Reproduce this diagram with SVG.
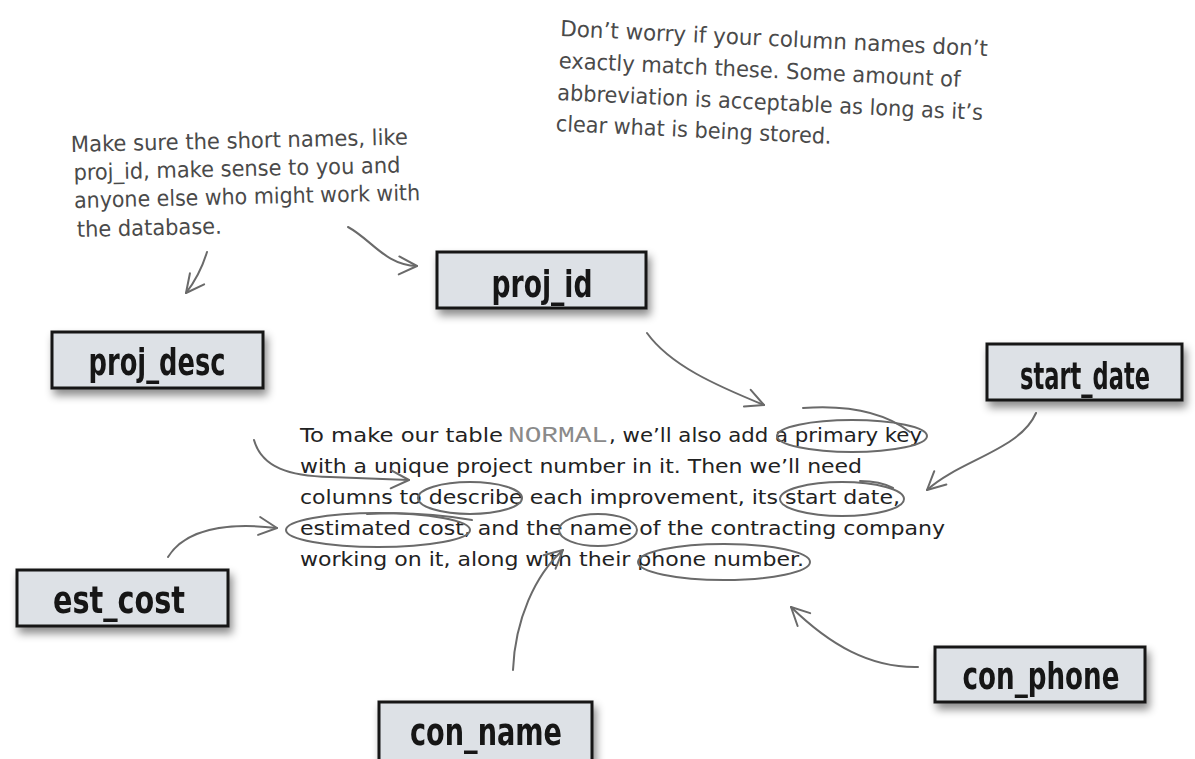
<svg xmlns="http://www.w3.org/2000/svg" width="1195" height="759" viewBox="0 0 1195 759">
<style>
.box{fill:#dde1e6;stroke:#141414;stroke-width:3}
.lbl{font-family:"Liberation Sans Narrow","DejaVu Sans Condensed",sans-serif;font-weight:bold;font-size:38px;fill:#141414;text-anchor:middle}
.note{font-family:"Liberation Sans Narrow","DejaVu Sans Condensed",sans-serif;font-size:22px;fill:#4a4a4a}
.body{font-family:"DejaVu Sans","Liberation Sans",sans-serif;font-size:20px;fill:#222}
.mono{font-family:"Liberation Mono",monospace;font-size:22px;fill:#8a8a8a}
.pen{fill:none;stroke:#6a6a6a;stroke-width:2;stroke-linecap:round;stroke-linejoin:round}
.arr{marker-end:url(#head)}
</style>
<defs>
<filter id="sh" x="-10%" y="-20%" width="125%" height="160%">
<feDropShadow dx="3" dy="6" stdDeviation="4" flood-color="#000" flood-opacity="0.45"/>
</filter>
<marker id="head" viewBox="0 0 22 22" refX="20" refY="11" markerWidth="22" markerHeight="22" markerUnits="userSpaceOnUse" orient="auto">
<path d="M2 2 L20 11 L2 20" fill="none" stroke="#6a6a6a" stroke-width="2" stroke-linecap="round" stroke-linejoin="round"/>
</marker>
</defs>
<rect width="1195" height="759" fill="#fff"/>

<g id="note-left" transform="rotate(-1.3 71 152)">
<text class="note" x="71" y="152" textLength="337" lengthAdjust="spacingAndGlyphs">Make sure the short names, like</text>
<text class="note" x="73" y="180" textLength="327" lengthAdjust="spacingAndGlyphs">proj_id, make sense to you and</text>
<text class="note" x="73" y="208" textLength="346" lengthAdjust="spacingAndGlyphs">anyone else who might work with</text>
<text class="note" x="75" y="237" textLength="145" lengthAdjust="spacingAndGlyphs">the database.</text>
</g>

<g id="note-right" transform="rotate(2.7 560 36)">
<text class="note" x="560" y="36" textLength="428" lengthAdjust="spacingAndGlyphs">Don’t worry if your column names don’t</text>
<text class="note" x="560" y="68" textLength="402" lengthAdjust="spacingAndGlyphs">exactly match these. Some amount of</text>
<text class="note" x="560" y="100" textLength="426" lengthAdjust="spacingAndGlyphs">abbreviation is acceptable as long as it’s</text>
<text class="note" x="560" y="131" textLength="276" lengthAdjust="spacingAndGlyphs">clear what is being stored.</text>
</g>

<g id="paragraph">
<text class="body" x="300" y="442" textLength="203" lengthAdjust="spacingAndGlyphs">To make our table</text>
<text class="mono" x="508" y="442" textLength="100" lengthAdjust="spacingAndGlyphs">NORMAL</text>
<text class="body" x="609" y="442" textLength="313" lengthAdjust="spacingAndGlyphs">, we’ll also add a primary key</text>
<text class="body" x="300" y="473" textLength="562" lengthAdjust="spacingAndGlyphs">with a unique project number in it. Then we’ll need</text>
<text class="body" x="300" y="504" textLength="600" lengthAdjust="spacingAndGlyphs">columns to describe each improvement, its start date,</text>
<text class="body" x="300" y="535" textLength="645" lengthAdjust="spacingAndGlyphs">estimated cost, and the name of the contracting company</text>
<text class="body" x="300" y="566" textLength="504" lengthAdjust="spacingAndGlyphs">working on it, along with their phone number.</text>
</g>

<g id="circles">
<ellipse class="pen" cx="852" cy="436" rx="75" ry="16"/>
<path class="pen" d="M803 408 Q872 403 910 432"/>
<ellipse class="pen" cx="470" cy="498" rx="52" ry="16"/>
<ellipse class="pen" cx="842" cy="499" rx="62" ry="17"/>
<path class="pen" d="M860 481 Q880 481 893 488"/>
<ellipse class="pen" cx="378" cy="530" rx="92" ry="17"/>
<path class="pen" d="M367 514 Q420 511 472 520"/>
<ellipse class="pen" cx="598" cy="530" rx="39" ry="16"/>
<ellipse class="pen" cx="724" cy="562" rx="86" ry="18"/>
</g>

<g id="connectors">
<path class="pen arr" d="M207 252 Q200 275 186 293"/>
<path class="pen arr" d="M348 227 C372 240 385 265 417 266"/>
<path class="pen arr" d="M647 333 C670 365 715 385 764 405"/>
<path class="pen arr" d="M1036 413 C1020 450 960 460 927 490"/>
<path class="pen arr" d="M254 440 C262 468 290 476 330 477 L409 480"/>
<path class="pen arr" d="M168 557 C185 530 225 522 277 528"/>
<path class="pen arr" d="M513 670 C515 620 535 575 563 550"/>
<path class="pen arr" d="M918 667 C870 668 830 645 791 607"/>
</g>

<g id="proj_id" filter="url(#sh)">
<rect class="box" x="437" y="252" width="209" height="56"/>
<text class="lbl" x="542" y="297" textLength="101" lengthAdjust="spacingAndGlyphs">proj_id</text>
</g>
<g id="proj_desc" filter="url(#sh)">
<rect class="box" x="52" y="332" width="211" height="56"/>
<text class="lbl" x="157" y="375" textLength="137" lengthAdjust="spacingAndGlyphs">proj_desc</text>
</g>
<g id="start_date" filter="url(#sh)">
<rect class="box" x="987" y="344" width="195" height="56"/>
<text class="lbl" transform="translate(1085 389) scale(0.66 1)" x="0" y="0" font-size="37">start_date</text>
</g>
<g id="est_cost" filter="url(#sh)">
<rect class="box" x="17" y="570" width="211" height="56"/>
<text class="lbl" x="119" y="613" textLength="132" lengthAdjust="spacingAndGlyphs">est_cost</text>
</g>
<g id="con_name" filter="url(#sh)">
<rect class="box" x="379" y="702" width="213" height="64"/>
<text class="lbl" x="486" y="745" textLength="152" lengthAdjust="spacingAndGlyphs">con_name</text>
</g>
<g id="con_phone" filter="url(#sh)">
<rect class="box" x="935" y="647" width="210" height="55"/>
<text class="lbl" x="1041" y="689" textLength="157" lengthAdjust="spacingAndGlyphs">con_phone</text>
</g>
</svg>
